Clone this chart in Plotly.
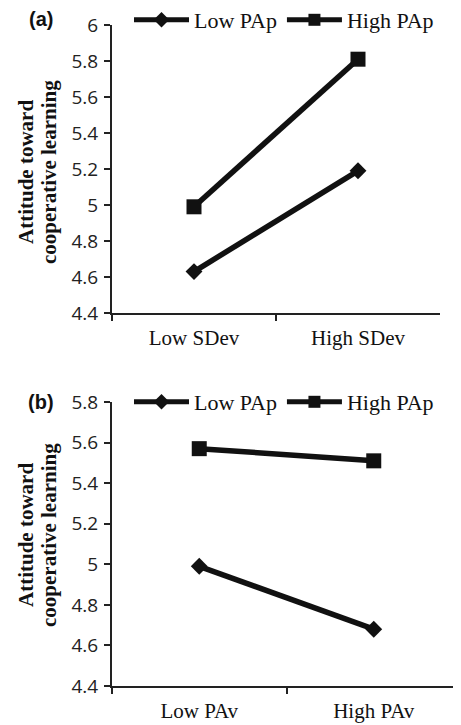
import plotly.graph_objects as go

# page body has an 8px margin, so the figure is drawn 8px smaller and all
# pixel positions below are measured in figure coordinates (= screen - 8)
W, H = 453, 717

# ---- data ----
cats_a = ["Low SDev", "High SDev"]
low_pap_a = [4.63, 5.19]
high_pap_a = [4.99, 5.81]

cats_b = ["Low PAv", "High PAv"]
low_pap_b = [4.99, 4.68]
high_pap_b = [5.57, 5.51]

series_names = ["Low PAp", "High PAp"]
y_title_lines = ["Attitude toward", "cooperative learning"]
panel_labels = ["(a)", "(b)"]

INK = "#111111"
SERIF = "Liberation Serif, Times New Roman, serif"
SANS = "Open Sans, sans-serif"


def px_x(p):
    return p / W


def px_y(p):
    return 1 - p / H


fig = go.Figure()

# panel (a)
fig.add_trace(go.Scatter(x=cats_a, y=low_pap_a, name=series_names[0], mode="lines+markers",
                         line=dict(color=INK, width=5.5),
                         marker=dict(symbol="diamond", size=13, color=INK),
                         xaxis="x", yaxis="y", legend="legend"))
fig.add_trace(go.Scatter(x=cats_a, y=high_pap_a, name=series_names[1], mode="lines+markers",
                         line=dict(color=INK, width=5.5),
                         marker=dict(symbol="square", size=15, color=INK),
                         xaxis="x", yaxis="y", legend="legend"))
# panel (b)
fig.add_trace(go.Scatter(x=cats_b, y=low_pap_b, name=series_names[0], mode="lines+markers",
                         line=dict(color=INK, width=5.5),
                         marker=dict(symbol="diamond", size=13, color=INK),
                         xaxis="x2", yaxis="y2", legend="legend2"))
fig.add_trace(go.Scatter(x=cats_b, y=high_pap_b, name=series_names[1], mode="lines+markers",
                         line=dict(color=INK, width=5.5),
                         marker=dict(symbol="square", size=15, color=INK),
                         xaxis="x2", yaxis="y2", legend="legend2"))

xcommon = dict(type="category", range=[-0.5, 1.5], tickson="boundaries", ticks="outside",
               ticklen=6, tickwidth=2, tickcolor="#222", showline=True, linecolor="#222",
               linewidth=2, showgrid=False, zeroline=False, ticklabelstandoff=5,
               tickfont=dict(family=SERIF, size=21, color=INK), fixedrange=True)
ycommon = dict(dtick=0.2, ticks="outside", ticklen=6, tickwidth=2, tickcolor="#222",
               showline=True, linecolor="#222", linewidth=2, showgrid=False, zeroline=False,
               ticklabelstandoff=2,
               tickfont=dict(family=SANS, size=19, color="#222"), fixedrange=True)

legcommon = dict(orientation="h", xanchor="left", yanchor="middle", bgcolor="rgba(0,0,0,0)",
                 font=dict(family=SERIF, size=22, color=INK), itemwidth=55,
                 itemsizing="constant", tracegroupgap=0)

fig.update_layout(
    width=W, height=H,
    margin=dict(l=0, r=0, t=0, b=0, autoexpand=False),
    paper_bgcolor="white", plot_bgcolor="white",
    xaxis=dict(xcommon, domain=[px_x(104), px_x(432)], anchor="y"),
    yaxis=dict(ycommon, domain=[px_y(305), px_y(17)], range=[4.4, 6.0], anchor="x"),
    xaxis2=dict(xcommon, domain=[px_x(104), 1.0], anchor="y2"),
    yaxis2=dict(ycommon, domain=[px_y(678), px_y(394)], range=[4.4, 5.8], anchor="x2"),
    legend=dict(legcommon, x=px_x(121), y=px_y(12)),
    legend2=dict(legcommon, x=px_x(121), y=px_y(394)),
    showlegend=True,
)

annots = []
for lab, yc in zip(panel_labels, [11, 394]):
    annots.append(dict(text="<b>%s</b>" % lab, xref="paper", yref="paper",
                       x=px_x(33), y=px_y(yc), xanchor="center", yanchor="middle",
                       showarrow=False,
                       font=dict(family="Liberation Sans, Arial, sans-serif", size=20, color=INK)))
for yc in [164, 527]:
    for line, xc in zip(y_title_lines, [18, 41]):
        annots.append(dict(text="<b>%s</b>" % line, xref="paper", yref="paper",
                           x=px_x(xc), y=px_y(yc), xanchor="center", yanchor="middle",
                           textangle=-90, showarrow=False,
                           font=dict(family=SERIF, size=21, color=INK)))
fig.update_layout(annotations=annots)

fig.write_html("out.html")
